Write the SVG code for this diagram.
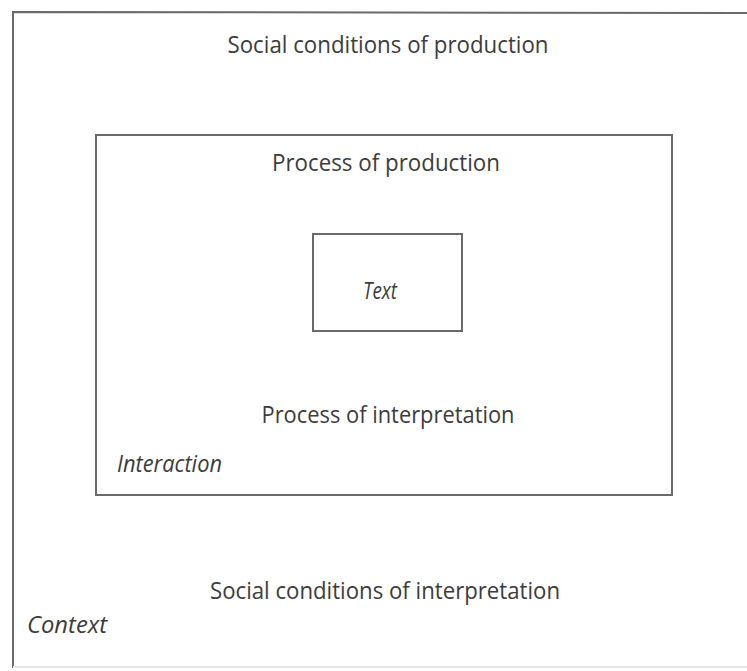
<svg xmlns="http://www.w3.org/2000/svg" width="747" height="671" viewBox="0 0 747 671">
<style>
.box{fill:none;stroke:#6a6a6a;stroke-width:2}
.lbl{font-family:"Open Sans","Liberation Sans",sans-serif;font-size:23px;fill:#3c3c3c;text-anchor:middle}
.it{font-style:italic;text-anchor:start}
</style>
<rect width="747" height="671" fill="#ffffff"/>
<g id="context">
<path class="box" d="M13,668 L13,12 L747,13"/>
<path d="M13,667 L747,667" stroke="#e6e6e6" stroke-width="2" fill="none"/>
<text class="lbl" x="388" y="53" textLength="321" lengthAdjust="spacingAndGlyphs">Social conditions of production</text>
<text class="lbl" x="385" y="599" textLength="350" lengthAdjust="spacingAndGlyphs">Social conditions of interpretation</text>
<text class="lbl it" x="27" y="633" textLength="80" lengthAdjust="spacingAndGlyphs">Context</text>
</g>
<g id="interaction">
<rect class="box" x="96" y="135" width="576" height="360"/>
<text class="lbl" x="386" y="171" textLength="228" lengthAdjust="spacingAndGlyphs">Process of production</text>
<text class="lbl" x="388" y="423" textLength="253" lengthAdjust="spacingAndGlyphs">Process of interpretation</text>
<text class="lbl it" x="117" y="472" textLength="105" lengthAdjust="spacingAndGlyphs">Interaction</text>
</g>
<g id="text">
<rect class="box" x="313" y="234" width="149" height="97"/>
<text class="lbl it" x="363" y="299" textLength="34" lengthAdjust="spacingAndGlyphs">Text</text>
</g>
<g id="connectors"></g>
</svg>
